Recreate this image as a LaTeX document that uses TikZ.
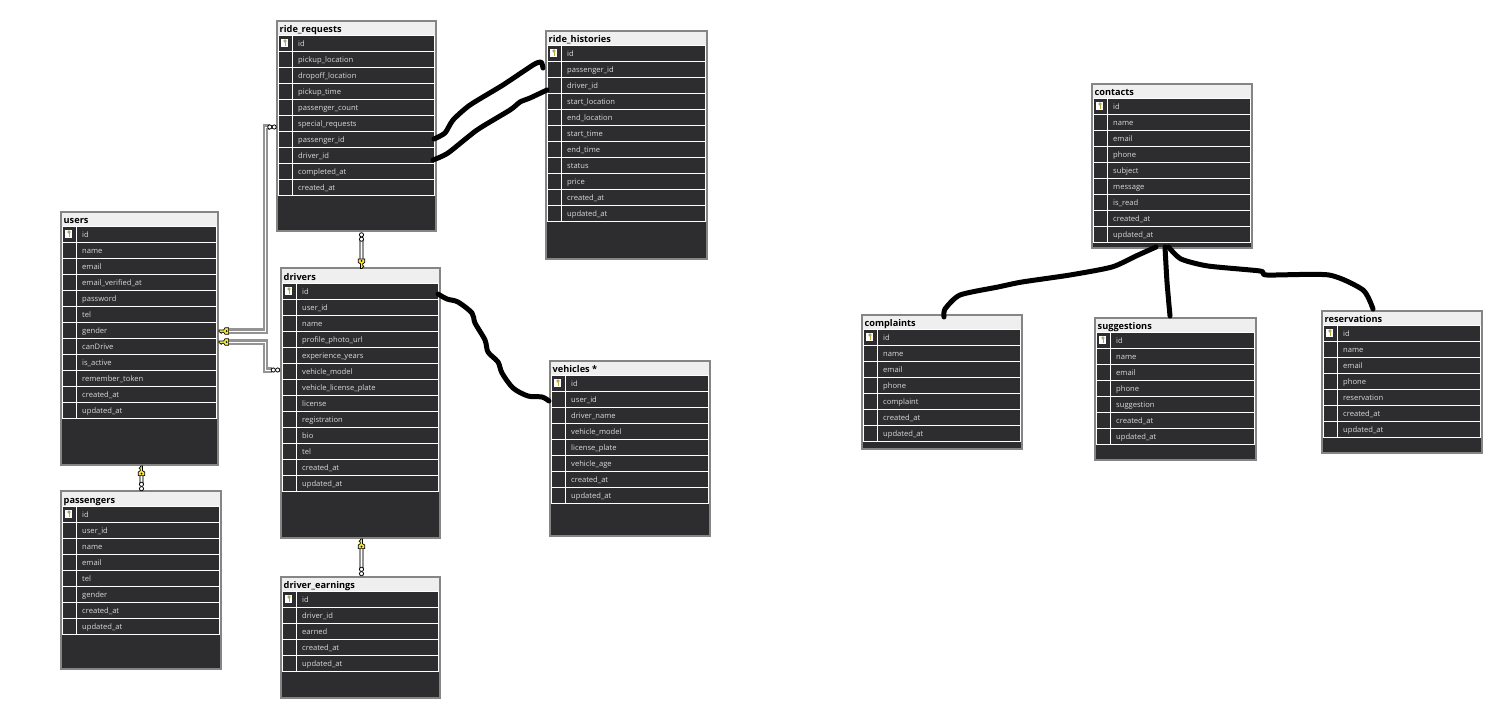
\documentclass[tikz,border=0pt]{standalone}
\usepackage{fontspec}
\setmainfont{Open Sans}
\usetikzlibrary{calc}
\definecolor{panel}{HTML}{2D2D30}
\definecolor{frameg}{HTML}{858585}
\definecolor{titleg}{HTML}{EFEFEF}
\definecolor{rowtxt}{HTML}{DADADA}
\definecolor{keyy}{HTML}{F5E642}
\tikzset{
  x=1pt,y=-1pt,
  tablebox/.style={draw=frameg,line width=1.4pt,fill=panel},
  titlebar/.style={fill=titleg,draw=none},
  tabletitle/.style={anchor=base west,inner sep=0pt,font=\fontsize{9.2}{10}\selectfont\bfseries,text=black},
  rowtext/.style={anchor=base west,inner sep=0pt,font=\fontsize{7.6}{9}\selectfont,text=rowtxt},
  gridline/.style={draw=white,line width=0.9pt},
  relation/.style={draw=gray!85,line width=2.4pt,double=white,double distance=0.7pt,line join=miter},
  handline/.style={draw=black,line width=5pt,line cap=round,line join=round},
}
% name, x0,y0,x1,y1, title, first-row centre, rows
\newcommand{\dbtable}[8]{%
  \node[tablebox,minimum width=#4pt-#2pt,minimum height=#5pt-#3pt,inner sep=0pt,outer sep=0pt,anchor=north west] (#1) at (#2,#3) {};
  \fill[titlebar] (#2+0.7,#3+0.7) rectangle (#4-0.7,#7-8.4);
  \node[tabletitle] (#1title) at (#2+2.5,#7-11) {#6};
  \foreach \txt [count=\i from 0] in {#8} {
    \pgfmathsetmacro{\cy}{#7+16*\i}
    \node[rowtext] (#1row\i) at (#2+21,\cy+3) {\txt};
    \draw[gridline] (#2+1.5,\cy-8) rectangle (#4-2,\cy+8);
    \draw[gridline] (#2+15,\cy-8) -- (#2+15,\cy+8);
  }
  % primary-key icon
  \fill[white] (#2+4,#7-4) rectangle (#2+11,#7+3.5);
  \fill[keyy,draw=black!60,line width=0.3pt] (#2+8,#7-2) circle (1.4);
  \draw[keyy!75!black,line width=1pt] (#2+8,#7-0.8) -- (#2+8,#7+3);
}
% key icon: head on local +x, bit on local -x
\newcommand{\relkey}[3]{%
  \begin{scope}[shift={(#1,#2)},rotate=#3]
    \fill[keyy,draw=black,line width=0.7pt] (-5,-1) -- (-0.3,-1) -- (1,-3.2) -- (4.6,-3.2) -- (4.6,3.2) -- (1,3.2) -- (-0.3,1.3) -- (-2,1.3) -- (-2.8,2.4) -- (-3.8,1.3) -- (-5,0.7) -- cycle;
    \fill[black] (2.6,0) circle (0.9);
  \end{scope}}
% many-end (two small circles), rotated
\newcommand{\relinf}[3]{%
  \begin{scope}[shift={(#1,#2)},rotate=#3]
    \draw[black,fill=white,line width=0.8pt] (-2.2,0) circle (2.1);
    \draw[black,fill=white,line width=0.8pt] (2.2,0) circle (2.1);
  \end{scope}}
\begin{document}
\begin{tikzpicture}
\useasboundingbox (0,0) rectangle (1506,720);
\fill[white] (0,0) rectangle (1506,720);

\dbtable{users}{61}{212}{218}{465}{users}{234}{id,name,email,email\_verified\_at,password,tel,gender,canDrive,is\_active,remember\_token,created\_at,updated\_at}
\dbtable{passengers}{61}{491}{221}{669}{passengers}{514}{id,user\_id,name,email,tel,gender,created\_at,updated\_at}
\dbtable{rides}{277}{21}{436}{231}{ride\_requests}{43}{id,pickup\_location,dropoff\_location,pickup\_time,passenger\_count,special\_requests,passenger\_id,driver\_id,completed\_at,created\_at}
\dbtable{drivers}{281}{268}{440}{538}{drivers}{291}{id,user\_id,name,profile\_photo\_url,experience\_years,vehicle\_model,vehicle\_license\_plate,license,registration,bio,tel,created\_at,updated\_at}
\dbtable{earnings}{281}{577}{440}{698}{driver\_earnings}{599}{id,driver\_id,earned,created\_at,updated\_at}
\dbtable{histories}{546}{31}{707}{259}{ride\_histories}{53}{id,passenger\_id,driver\_id,start\_location,end\_location,start\_time,end\_time,status,price,created\_at,updated\_at}
\dbtable{vehicles}{550}{361}{710}{536}{vehicles *}{383}{id,user\_id,driver\_name,vehicle\_model,license\_plate,vehicle\_age,created\_at,updated\_at}
\dbtable{contacts}{1092}{84}{1252}{248}{contacts}{106}{id,name,email,phone,subject,message,is\_read,created\_at,updated\_at}
\dbtable{complaints}{862}{315}{1022}{449}{complaints}{337}{id,name,email,phone,complaint,created\_at,updated\_at}
\dbtable{suggestions}{1095}{318}{1256}{460}{suggestions}{340}{id,name,email,phone,suggestion,created\_at,updated\_at}
\dbtable{reservations}{1322}{311}{1482}{453}{reservations}{333}{id,name,email,phone,reservation,created\_at,updated\_at}

% relation end points
\coordinate (uA) at (226,331);
\coordinate (uB) at (226,342);
\coordinate (rA) at (270,127);
\coordinate (dA) at (272,370);
\coordinate (rB) at (361.5,239);
\coordinate (dB) at (361.5,262);
\coordinate (dC) at (361.5,545);
\coordinate (eA) at (361.5,569);
\coordinate (uC) at (141.5,472);
\coordinate (pA) at (141.5,484);

\draw[relation] (uA) -- (265.5,331) -- (265.5,127) -- (rA);
\draw[relation] (uB) -- (265.5,342) -- (265.5,370) -- (dA);
\draw[relation] (rB) -- (dB);
\draw[relation] (dC) -- (eA);
\draw[relation] (uC) -- (pA);

\relkey{224}{331}{0}
\relkey{224}{342}{0}
\relinf{272}{127}{0}
\relinf{275.5}{370}{0}
\relinf{361.5}{237}{90}
\relkey{361.5}{263.5}{90}
\relkey{361.5}{544}{-90}
\relinf{361.5}{571.5}{90}
\relkey{141.5}{471}{-90}
\relinf{141.5}{486.5}{90}

% hand-drawn connectors
\coordinate (hA) at (434,139);
\coordinate (hB) at (543,68);
\coordinate (hC) at (433,160);
\coordinate (hD) at (547,90);
\coordinate (hE) at (438,294);
\coordinate (hF) at (549,401);
\coordinate (hG) at (1156,247);
\coordinate (hH) at (944,317);
\coordinate (hI) at (1165,247);
\coordinate (hJ) at (1170,316);
\coordinate (hK) at (1168.5,247);
\coordinate (hL) at (1373,309);
\draw[handline] plot[smooth,tension=0.4] coordinates {(hA) (445,133) (453,120) (470,105) (503,85) (533,65) (541,62) (hB)};
\draw[handline] plot[smooth,tension=0.4] coordinates {(hC) (448,153) (477,130) (510,110) (520,102) (530,98) (hD)};
\draw[handline] plot[smooth,tension=0.5] coordinates {(hE) (447,299) (458,302) (472,313) (475,323) (485,340) (488,352) (498,362) (502,373) (513,388) (528,396) (542,397) (hF)};
\draw[handline] plot[smooth,tension=0.4] coordinates {(hG) (1136,256) (1112,267) (1070,275) (1022,282) (998,287) (960,295) (945,309) (hH)};
\draw[handline] plot[smooth,tension=0.4] coordinates {(hI) (1167,282) (hJ)};
\draw[handline] plot[smooth,tension=0.4] coordinates {(hK) (1181,259) (1208,266) (1260,271) (1267,275) (1329,275) (1363,290) (hL)};
\end{tikzpicture}
\end{document}
